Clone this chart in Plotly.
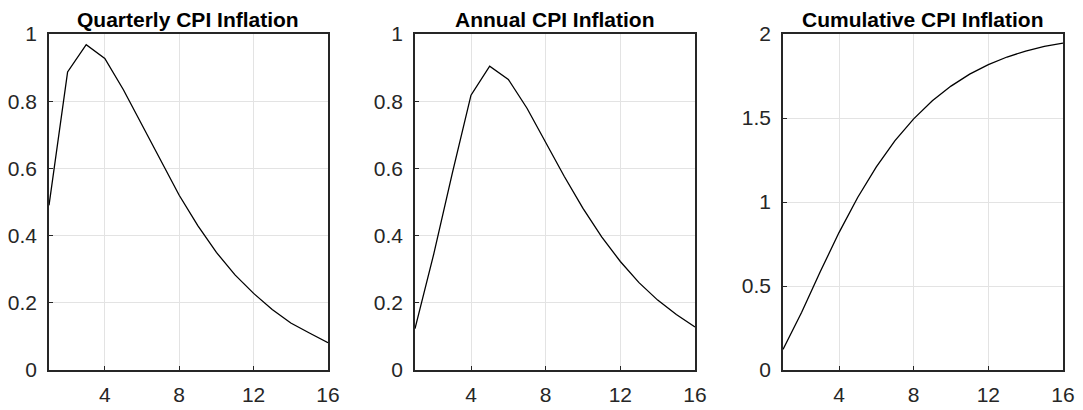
import plotly.graph_objects as go

quarters = list(range(1, 17))
quarterly = [0.49, 0.887, 0.968, 0.927, 0.834, 0.73, 0.625, 0.52,
             0.43, 0.35, 0.283, 0.228, 0.18, 0.14, 0.11, 0.081]
annual = [0.123, 0.344, 0.586, 0.818, 0.904, 0.865, 0.779, 0.677,
          0.576, 0.481, 0.396, 0.323, 0.260, 0.208, 0.165, 0.128]
cumulative = [0.123, 0.344, 0.586, 0.818, 1.027, 1.209, 1.365, 1.495,
              1.603, 1.690, 1.761, 1.818, 1.863, 1.898, 1.926, 1.946]
titles = ["Quarterly CPI Inflation", "Annual CPI Inflation", "Cumulative CPI Inflation"]
x_ticks = [4, 8, 12, 16]
y_ticks_a = [0, 0.2, 0.4, 0.6, 0.8, 1]
y_labels_a = ["0", "0.2", "0.4", "0.6", "0.8", "1"]
y_ticks_c = [0, 0.5, 1, 1.5, 2]
y_labels_c = ["0", "0.5", "1", "1.5", "2"]

# page pixels of the reference; the browser places the figure at (8, 8)
OFF = 8
W, H = 1083 - OFF, 410 - OFF
x_doms = [(49, 328), (415, 695), (783, 1063)]
y_top, y_bot = 34, 370
y_dom = [(H - (y_bot - OFF)) / H, (H - (y_top - OFF)) / H]

series = [quarterly, annual, cumulative]
yranges = [[0, 1], [0, 1], [0, 2]]
yt = [(y_ticks_a, y_labels_a), (y_ticks_a, y_labels_a), (y_ticks_c, y_labels_c)]
axcol = "#262626"
font = "Liberation Sans, Arial, Helvetica, sans-serif"

fig = go.Figure()
layout_axes = {}
annotations = []
for i in range(3):
    s = "" if i == 0 else str(i + 1)
    m = str(4 + i)
    fig.add_trace(go.Scatter(x=quarters, y=series[i], mode="lines",
                             line=dict(color="black", width=1.3),
                             xaxis="x" + s, yaxis="y" + s, showlegend=False))
    common = dict(showline=True, linecolor=axcol, linewidth=1.6, mirror=True,
                  ticks="inside", ticklen=4, tickwidth=1.3, tickcolor=axcol,
                  showgrid=True, gridcolor="#e3e3e3", gridwidth=1, zeroline=False,
                  automargin=False,
                  tickfont=dict(family=font, size=21, color=axcol))
    xd = [(x_doms[i][0] - OFF) / W, (x_doms[i][1] - OFF) / W]
    layout_axes["xaxis" + s] = dict(domain=xd,
                                    range=[1, 16], tickmode="array", tickvals=x_ticks,
                                    anchor="y" + s, ticklabelstandoff=5, **common)
    layout_axes["yaxis" + s] = dict(domain=y_dom, range=yranges[i], tickmode="array",
                                    tickvals=yt[i][0], ticktext=yt[i][1],
                                    anchor="x" + s, ticklabelstandoff=6, **common)
    # mirrored tick marks on the top and right edges of the box
    mirror_common = dict(showline=False, showgrid=False, zeroline=False,
                         showticklabels=False, ticks="inside", ticklen=4,
                         tickwidth=1.3, tickcolor=axcol, automargin=False)
    layout_axes["xaxis" + m] = dict(domain=xd, range=[1, 16], tickmode="array",
                                    tickvals=x_ticks, overlaying="x" + s, side="top",
                                    anchor="y" + s, **mirror_common)
    layout_axes["yaxis" + m] = dict(domain=y_dom, range=yranges[i], tickmode="array",
                                    tickvals=yt[i][0], overlaying="y" + s, side="right",
                                    anchor="x" + s, **mirror_common)
    annotations.append(dict(text="<b>" + titles[i] + "</b>", xref="paper", yref="paper",
                            x=(xd[0] + xd[1]) / 2, y=y_dom[1],
                            xanchor="center", yanchor="bottom", yshift=1, showarrow=False,
                            font=dict(family=font, size=21, color="black")))

fig.update_layout(width=W, height=H, autosize=False,
                  margin=dict(l=0, r=0, t=0, b=0, pad=0),
                  paper_bgcolor="white", plot_bgcolor="white",
                  annotations=annotations, **layout_axes)
fig.write_html("out.html")
